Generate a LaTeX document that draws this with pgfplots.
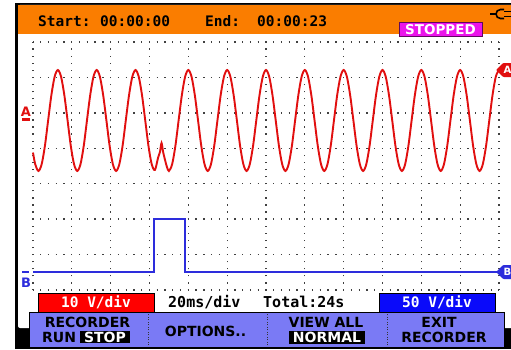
\documentclass[border=0pt]{standalone}
\usepackage{fontspec}
\setmainfont{DejaVu Sans}
\newfontfamily\mono{DejaVu Sans Mono}
\usepackage{pgfplots}
\pgfplotsset{compat=1.18}
\definecolor{scoporange}{RGB}{250,125,0}
\definecolor{tracered}{RGB}{225,15,15}
\definecolor{traceblue}{RGB}{45,45,220}
\definecolor{softkey}{RGB}{122,122,245}
\definecolor{stopmag}{RGB}{235,20,235}
\definecolor{boxblue}{RGB}{10,10,250}
\begin{document}
\begin{tikzpicture}[x=1pt,y=1pt]
\useasboundingbox (0,0) rectangle (511,349);
\fill[white] (0,0) rectangle (511,349);
\fill[black] (15,0) rectangle (511,346);
\fill[white, rounded corners=2pt] (18,21) rectangle (516,344);
\fill[scoporange] (18,315) rectangle (511,344);
\begin{axis}[at={(33pt,59pt)}, anchor=origin, width=466pt, height=248pt, scale only axis,
  xmin=0, xmax=12, ymin=0, ymax=7,
  axis line style={draw=none}, tick style={draw=none},
  xtick={0,...,12}, ytick={0,...,7}, xticklabels={}, yticklabels={}, major tick length=0pt,
  grid=major,
  x grid style={black!75, line width=1.3pt, line cap=butt, dash pattern=on 1.3pt off 5.7857pt, dash phase=0.65pt},
  y grid style={black!75, line width=1.3pt, line cap=butt, dash pattern=on 1.3pt off 6.4667pt, dash phase=0.65pt},
  clip=false]
\addplot[tracered, line width=1.9pt, smooth] coordinates {
(0,3.88) (0.057,3.55)
(0.140,3.36) (0.223,3.55) (0.307,4.07) (0.390,4.79) (0.473,5.50) (0.557,6.02) (0.640,6.21) (0.723,6.02) (0.807,5.50) (0.890,4.79) (0.973,4.07) (1.057,3.55)
(1.140,3.36) (1.223,3.55) (1.307,4.07) (1.390,4.79) (1.473,5.50) (1.557,6.02) (1.640,6.21) (1.723,6.02) (1.807,5.50) (1.890,4.79) (1.973,4.07) (2.057,3.55)
(2.140,3.36) (2.223,3.55) (2.307,4.07) (2.390,4.79) (2.473,5.50) (2.557,6.02) (2.640,6.21) (2.723,6.02) (2.807,5.50) (2.890,4.79) (2.973,4.07) (3.057,3.55)
(3.140,3.39) (3.22,3.73) (3.27,3.90) (3.31,4.15) (3.35,3.90) (3.40,3.67) (3.45,3.47)
(3.500,3.36) (3.583,3.55) (3.667,4.07) (3.750,4.79) (3.833,5.50) (3.917,6.02) (4.000,6.21) (4.083,6.02) (4.167,5.50) (4.250,4.79) (4.333,4.07) (4.417,3.55)
(4.500,3.36) (4.583,3.55) (4.667,4.07) (4.750,4.79) (4.833,5.50) (4.917,6.02) (5.000,6.21) (5.083,6.02) (5.167,5.50) (5.250,4.79) (5.333,4.07) (5.417,3.55)
(5.500,3.36) (5.583,3.55) (5.667,4.07) (5.750,4.79) (5.833,5.50) (5.917,6.02) (6.000,6.21) (6.083,6.02) (6.167,5.50) (6.250,4.79) (6.333,4.07) (6.417,3.55)
(6.500,3.36) (6.583,3.55) (6.667,4.07) (6.750,4.79) (6.833,5.50) (6.917,6.02) (7.000,6.21) (7.083,6.02) (7.167,5.50) (7.250,4.79) (7.333,4.07) (7.417,3.55)
(7.500,3.36) (7.583,3.55) (7.667,4.07) (7.750,4.79) (7.833,5.50) (7.917,6.02) (8.000,6.21) (8.083,6.02) (8.167,5.50) (8.250,4.79) (8.333,4.07) (8.417,3.55)
(8.500,3.36) (8.583,3.55) (8.667,4.07) (8.750,4.79) (8.833,5.50) (8.917,6.02) (9.000,6.21) (9.083,6.02) (9.167,5.50) (9.250,4.79) (9.333,4.07) (9.417,3.55)
(9.500,3.36) (9.583,3.55) (9.667,4.07) (9.750,4.79) (9.833,5.50) (9.917,6.02) (10.000,6.21) (10.083,6.02) (10.167,5.50) (10.250,4.79) (10.333,4.07) (10.417,3.55)
(10.500,3.36) (10.583,3.55) (10.667,4.07) (10.750,4.79) (10.833,5.50) (10.917,6.02) (11.000,6.21) (11.083,6.02) (11.167,5.50) (11.250,4.79) (11.333,4.07) (11.417,3.55)
(11.500,3.36) (11.583,3.55) (11.667,4.07) (11.750,4.79) (11.833,5.50) (11.917,6.02) (12.000,6.21)
};
\addplot[traceblue, line width=1.8pt] coordinates {
(0,0.50) (3.12,0.50) (3.12,2.00) (3.91,2.00) (3.91,0.50) (12,0.50)
};
\end{axis}
% header
\node[anchor=west, inner sep=0] at (38,328) {\mono\bfseries\fontsize{14.5}{14.5}\selectfont Start:};
\node[anchor=west, inner sep=0] at (100,328) {\mono\bfseries\fontsize{14.5}{14.5}\selectfont 00:00:00};
\node[anchor=west, inner sep=0] at (205,328) {\mono\bfseries\fontsize{14.5}{14.5}\selectfont End:};
\node[anchor=west, inner sep=0] at (257,328) {\mono\bfseries\fontsize{14.5}{14.5}\selectfont 00:00:23};
\draw[fill=stopmag, draw=black!60!stopmag, line width=1pt] (399,312) rectangle (482,326);
\node[white, inner sep=0] at (440.5,319) {\bfseries\fontsize{13.5}{13.5}\selectfont STOPPED};
% plug icon
\draw[line width=1.6pt] (490,335) -- (496,335);
\draw[line width=1.6pt] (504,339.5) -- (500.5,339.5) arc (90:270:4.5) -- (504,330.5);
\draw[line width=1.4pt] (504,337.5) -- (511,337.5);
\draw[line width=1.4pt] (504,332.5) -- (511,332.5);
% channel markers
\node[tracered, inner sep=0] at (26,237.5) {\bfseries\fontsize{13}{13}\selectfont A};
\fill[tracered] (22,228) rectangle (30,231);
\fill[traceblue] (22,76.5) rectangle (29,78.5);
\node[traceblue, inner sep=0] at (26,66) {\bfseries\fontsize{13}{13}\selectfont B};
\fill[tracered, rounded corners=1pt] (496,279) -- (503,286) -- (515,286) -- (515,272) -- (503,272) -- cycle;
\node[white, inner sep=0] at (507.5,279) {\bfseries\fontsize{10}{10}\selectfont A};
\fill[traceblue, rounded corners=1pt] (496,77) -- (503,84) -- (515,84) -- (515,70) -- (503,70) -- cycle;
\node[white, inner sep=0] at (507.5,77) {\bfseries\fontsize{10}{10}\selectfont B};
% bottom range boxes
\draw[fill=red, draw=black, line width=0.8pt] (38,37) rectangle (154,56);
\node[white, inner sep=0] at (96,46.5) {\mono\bfseries\fontsize{14.5}{14.5}\selectfont 10 V/div};
\node[anchor=west, inner sep=0] at (168,47) {\mono\bfseries\fontsize{15}{15}\selectfont 20ms/div};
\node[anchor=west, inner sep=0] at (263,47) {\mono\bfseries\fontsize{15}{15}\selectfont Total:24s};
\draw[fill=boxblue, draw=black, line width=0.8pt] (379,37) rectangle (495,56);
\node[white, inner sep=0] at (437,46.5) {\mono\bfseries\fontsize{14.5}{14.5}\selectfont 50 V/div};
% softkeys
\draw[fill=softkey, draw=black, line width=1pt] (29,2) rectangle (504,37);
\foreach \xx in {148,267,387} {
  \draw[black!80, line width=0.9pt, dash pattern=on 0.9pt off 1.6pt] (\xx,4) -- (\xx,36);
}
\node[inner sep=0] at (87.5,27) {\bfseries\fontsize{14}{14}\selectfont RECORDER};
\node[anchor=west, inner sep=0] at (42,12) {\bfseries\fontsize{14}{14}\selectfont RUN};
\fill[black] (80,6) rectangle (130,18);
\node[white, inner sep=0] at (105,12) {\bfseries\fontsize{14}{14}\selectfont STOP};
\node[inner sep=0] at (205.5,18) {\bfseries\fontsize{14}{14}\selectfont OPTIONS..};
\node[inner sep=0] at (326,27) {\bfseries\fontsize{14}{14}\selectfont VIEW ALL};
\fill[black] (289,5) rectangle (365,18);
\node[white, inner sep=0] at (327,11.5) {\bfseries\fontsize{14}{14}\selectfont NORMAL};
\node[inner sep=0] at (439,27) {\bfseries\fontsize{14}{14}\selectfont EXIT};
\node[inner sep=0] at (444,12) {\bfseries\fontsize{14}{14}\selectfont RECORDER};
\end{tikzpicture}
\end{document}
